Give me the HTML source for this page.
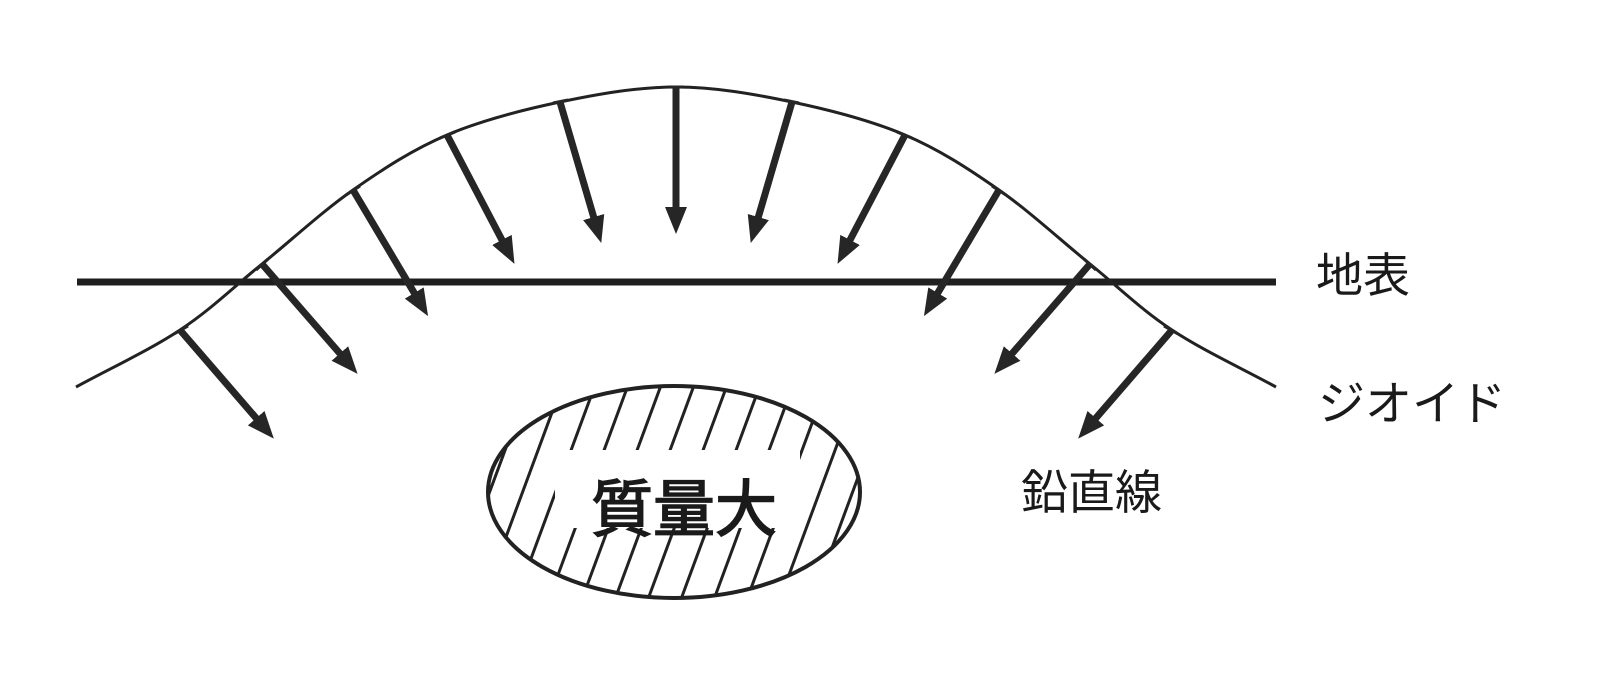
<!DOCTYPE html>
<html><head><meta charset="utf-8"><style>
html,body{margin:0;padding:0;background:#fff;}
svg{display:block;}
text{font-family:"Liberation Sans","Noto Sans CJK JP",sans-serif;fill:#1a1a1a;}
</style></head><body>
<svg width="1600" height="700" viewBox="0 0 1600 700" xmlns="http://www.w3.org/2000/svg">
<defs>
<marker id="ah" markerUnits="userSpaceOnUse" markerWidth="28" markerHeight="24" refX="4" refY="12" orient="auto">
<path d="M0,1 L27,12 L0,23 z" fill="#262626"/>
</marker>
<clipPath id="ec"><ellipse cx="674" cy="492" rx="186" ry="106"/></clipPath>
</defs>
<rect width="1600" height="700" fill="#fff"/>
<line x1="77" y1="282" x2="1276" y2="282" stroke="#1f1f1f" stroke-width="7"/>
<path d="M76,387 C110.7,368 149,350.5 180,330 C211,309.5 233.2,287.3 262,264 C290.8,240.7 322.2,211.5 353,190 C383.8,168.5 412.5,149.7 447,135 C481.5,120.3 521.8,110 560,102 C598.2,94 637.3,87 676,87 C714.7,87 753.8,94 792,102 C830.2,110 870.5,120.3 905,135 C939.5,149.7 968.2,168.5 999,190 C1029.8,211.5 1061.2,240.7 1090,264 C1118.8,287.3 1141,309.5 1172,330 C1203,350.5 1241.3,368 1276,387" fill="none" stroke="#222" stroke-width="3"/>
<g stroke="#262626" stroke-width="7" marker-end="url(#ah)" fill="none">
<line x1="180" y1="330" x2="258.8" y2="421.2"/>
<line x1="262" y1="264" x2="342.5" y2="356.5"/>
<line x1="353" y1="190" x2="416.3" y2="296.4"/>
<line x1="447" y1="135" x2="503.8" y2="243.5"/>
<line x1="560" y1="102" x2="594.8" y2="220.9"/>
<line x1="676" y1="87" x2="676" y2="211"/>
<line x1="792" y1="102" x2="757.2" y2="220.9"/>
<line x1="905" y1="135" x2="848.2" y2="243.5"/>
<line x1="999" y1="190" x2="935.7" y2="296.4"/>
<line x1="1090" y1="264" x2="1009.5" y2="356.5"/>
<line x1="1172" y1="330" x2="1093.2" y2="421.2"/>
</g>
<g stroke="#262626" stroke-width="3">
<line x1="174" y1="334" x2="188" y2="326"/>
<line x1="256" y1="270" x2="268" y2="259"/>
<line x1="346" y1="195" x2="360" y2="186"/>
<line x1="440" y1="138" x2="455" y2="132"/>
<line x1="553" y1="103" x2="568" y2="100"/>
<line x1="668" y1="87" x2="684" y2="87"/>
<line x1="784" y1="100" x2="799" y2="103"/>
<line x1="897" y1="132" x2="912" y2="138"/>
<line x1="992" y1="186" x2="1006" y2="195"/>
<line x1="1084" y1="259" x2="1096" y2="270"/>
<line x1="1164" y1="326" x2="1178" y2="334"/>
</g>
<g clip-path="url(#ec)" stroke="#222" stroke-width="3">
<line x1="380" y1="610" x2="465" y2="380"/>
<line x1="413" y1="610" x2="498" y2="380"/>
<line x1="446" y1="610" x2="531" y2="380"/>
<line x1="479" y1="610" x2="564" y2="380"/>
<line x1="512" y1="610" x2="597" y2="380"/>
<line x1="545" y1="610" x2="630" y2="380"/>
<line x1="578" y1="610" x2="663" y2="380"/>
<line x1="611" y1="610" x2="696" y2="380"/>
<line x1="644" y1="610" x2="729" y2="380"/>
<line x1="677" y1="610" x2="762" y2="380"/>
<line x1="710" y1="610" x2="795" y2="380"/>
<line x1="743" y1="610" x2="828" y2="380"/>
<line x1="776" y1="610" x2="861" y2="380"/>
<line x1="809" y1="610" x2="894" y2="380"/>
<line x1="842" y1="610" x2="927" y2="380"/>
</g>
<rect x="555" y="450" width="245" height="78" fill="#fff"/>
<ellipse cx="674" cy="492" rx="186" ry="106" fill="none" stroke="#222" stroke-width="4"/>
<text x="684" y="531" font-size="62" text-anchor="middle" stroke="#1a1a1a" stroke-width="1.6">質量大</text>
<text x="1316" y="292" font-size="47">地表</text>
<text x="1318" y="420" font-size="47">ジオイド</text>
<text x="1021" y="509" font-size="47">鉛直線</text>
</svg>
</body></html>
